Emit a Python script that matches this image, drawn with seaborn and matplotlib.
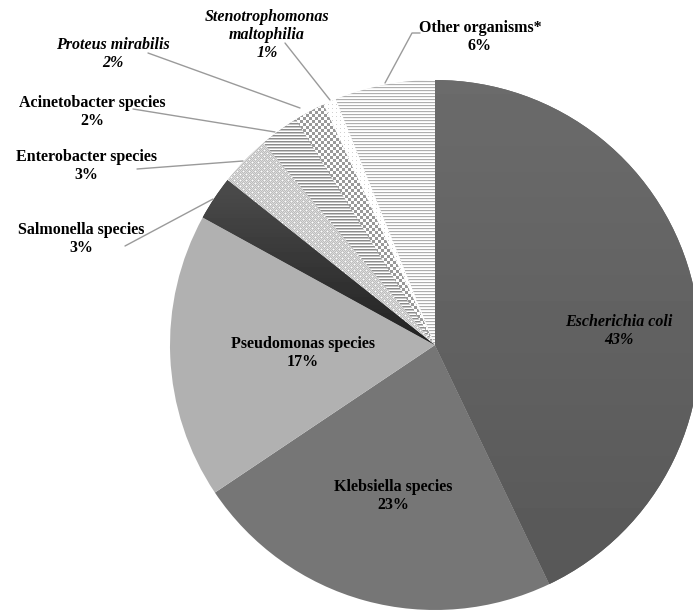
import numpy as np
import matplotlib
matplotlib.use("Agg")
import matplotlib.pyplot as plt
import seaborn as sns

# ---- data (clockwise from 12 o'clock) ----
organisms = ["Escherichia coli", "Klebsiella species", "Pseudomonas species",
             "Salmonella species", "Enterobacter species", "Acinetobacter species",
             "Proteus mirabilis", "Stenotrophomonas\nmaltophilia", "Other organisms*"]
percent = [42.9, 22.7, 17.4, 2.7, 3.1, 2.4, 1.9, 0.8, 6.1]
italic = [True, False, False, False, False, False, True, True, False]

sns.set_theme(style="white")
plt.rcParams["font.family"] = ["Liberation Serif", "DejaVu Serif"]

W, H = 693, 614
fig = plt.figure(figsize=(W / 100, H / 100), dpi=100)
ax = fig.add_axes([0, 0, 1, 1])

cx, cy_pix, R = 435, 345, 265
cy = H - cy_pix

base_colors = ["#616161", "#767676", "#b1b1b1", "#333333", "#cccccc",
               "#a0a0a0", "#b0b0b0", "#f4f4f4", "#e0e0e0"]
wedges, _ = ax.pie(percent, colors=base_colors, startangle=90, counterclock=False,
                   center=(cx, cy), radius=R, wedgeprops=dict(linewidth=0))

# ---- texture images (pixel grid, row 0 = top) ----
rows, cols = np.mgrid[0:H, 0:W]

def grad(top, bottom, r0, r1):
    t = np.clip((rows - r0) / (r1 - r0), 0, 1)
    return top + (bottom - top) * t

tex = {}
tex[0] = grad(0.42, 0.34, 80, 610)
tex[3] = grad(0.29, 0.13, 190, 345)
ent = np.where((rows + cols) % 2 == 0, 0.74, 0.86)
ent = np.where(((rows % 6 == 0) & (cols % 6 == 0)) | ((rows % 6 == 3) & (cols % 6 == 3)), 1.0, ent)
tex[4] = ent
tex[5] = np.choose(rows % 3, [0.55, 0.78, 1.0])
tex[6] = np.where(((rows // 3) + (cols // 3)) % 2 == 0, 0.6, 1.0)
tex[7] = np.where((rows % 4 == 0) & (cols % 4 == 0), 0.82, 1.0)
tex[8] = np.choose(rows % 3, [0.68, 0.95, 1.0])

for i, arr in tex.items():
    im = ax.imshow(arr, cmap="gray", vmin=0, vmax=1, extent=(0, W, 0, H),
                   origin="upper", interpolation="nearest", zorder=2)
    im.set_clip_path(wedges[i])

# ---- labels ----
label_pos = [(619, 322), (393, 487), (303, 344), (81, 230), (86, 157),
             (92, 103), (113, 45), (267, 17), (480, 28)]
line_h = 18
for name, p, it, (x, y) in zip(organisms, percent, italic, label_pos):
    lines = name.split("\n") + [f"{round(p)}%"]
    for k, ln in enumerate(lines):
        ax.text(x, H - (y + k * line_h), ln, ha="center", va="center",
                fontsize=11.5, fontweight="bold", style="italic" if it else "normal",
                color="black", zorder=5)

# ---- leader lines (pixel coords) ----
leaders = [
    [(420, 33), (412, 33), (385, 83)],
    [(285, 43), (330, 100)],
    [(148, 53), (300, 108)],
    [(133, 109), (275, 132)],
    [(137, 169), (243, 161)],
    [(125, 246), (213, 199)],
]
for pts in leaders:
    xs = [p[0] for p in pts]
    ys = [H - p[1] for p in pts]
    ax.plot(xs, ys, color="#9a9a9a", lw=1.0, zorder=4)

ax.set_xlim(0, W)
ax.set_ylim(0, H)
ax.set_aspect("equal")
ax.axis("off")
fig.savefig("out.png", dpi=100, facecolor="white")
